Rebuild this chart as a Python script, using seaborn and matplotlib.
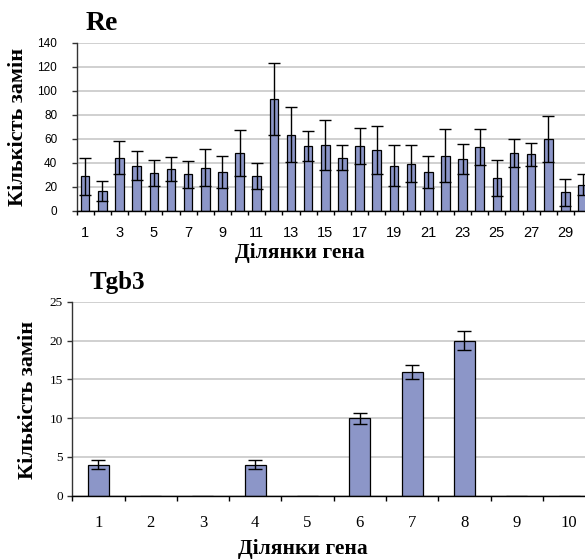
import numpy as np
import pandas as pd
import seaborn as sns
import matplotlib
matplotlib.use("Agg")
import matplotlib.pyplot as plt
from matplotlib.ticker import FixedLocator

# ---- data ----
re_sites = list(range(1, 31))
re_values = [29, 17, 44.5, 37.5, 31.5, 35, 30.5, 36, 32.5, 48,
             29, 93.5, 63.5, 54, 55, 44.5, 54, 50.5, 37.5, 39.5,
             32.5, 46, 43, 53, 27.5, 48, 47, 60, 15.5, 22]
re_errors = [15.5, 8.3, 13.5, 12, 11, 10, 11.5, 15.5, 13, 19,
             11, 30, 23, 12.5, 21, 10.3, 15, 20, 17, 15,
             13.5, 22, 12.5, 15, 15, 11.5, 9.5, 19, 11.5, 9]
re_tick_labels = [str(s) if s % 2 == 1 else "" for s in re_sites]
re_yticks = [0, 20, 40, 60, 80, 100, 120, 140]

tgb3_sites = list(range(1, 11))
tgb3_values = [4, 0, 0, 4, 0, 10, 16, 20, 0, 0]
tgb3_errors = [0.6, 0, 0, 0.6, 0, 0.7, 0.9, 1.2, 0, 0]
tgb3_yticks = [0, 5, 10, 15, 20, 25]

title_re = "Re"
title_tgb3 = "Tgb3"
ylabel_text = "Кількість замін"
xlabel_text = "Ділянки гена"

BAR = "#8C96C8"
GRID = "#C8C8C8"
SERIF = ["Liberation Serif", "DejaVu Serif"]
SANS = ["Liberation Sans", "DejaVu Sans"]

W, H = 585, 559
fig = plt.figure(figsize=(W / 100, H / 100), dpi=100)
fig.patch.set_facecolor("white")


def px_axes(left, right, top, bottom):
    return fig.add_axes([left / W, 1 - bottom / H, (right - left) / W, (bottom - top) / H])


def style_axes(ax, n, ylim, yticks, ytick_font, ytick_size, ytick_pad, ytick_len,
               xtick_font, xtick_size, xtick_pad, xtick_len, labels):
    ax.set_xlim(-0.5, n - 0.5)
    ax.set_ylim(*ylim)
    ax.set_yticks(yticks)
    ax.set_xticks(range(n))
    ax.set_xticklabels(labels)
    ax.xaxis.set_minor_locator(FixedLocator(np.arange(n + 1) - 0.5))
    ax.tick_params(axis="x", which="major", length=0, pad=xtick_pad)
    ax.tick_params(axis="x", which="minor", length=xtick_len, width=1, color="black", direction="out")
    ax.tick_params(axis="y", length=ytick_len, width=1, color="#333333", pad=ytick_pad, direction="out")
    for lab in ax.get_xticklabels():
        lab.set_fontfamily(xtick_font)
        lab.set_fontsize(xtick_size)
    for lab in ax.get_yticklabels():
        lab.set_fontfamily(ytick_font)
        lab.set_fontsize(ytick_size)
    ax.set_xlabel("")
    ax.set_ylabel("")
    ax.yaxis.grid(True, color=GRID, linewidth=1.2)
    ax.xaxis.grid(False)
    ax.set_axisbelow(True)
    for s in ("top", "right"):
        ax.spines[s].set_visible(False)
    ax.spines["left"].set_color("#333333")
    ax.spines["bottom"].set_color("black")
    ax.spines["left"].set_linewidth(1)
    ax.spines["bottom"].set_linewidth(1)
    ax.spines["bottom"].set_zorder(5)
    ax.set_facecolor("white")


# ---- top chart: Re ----
ax1 = px_axes(76.6, 591.2, 42.7, 211)
df_re = pd.DataFrame({"site": [str(s) for s in re_sites], "value": re_values})
sns.barplot(data=df_re, x="site", y="value", ax=ax1, color=BAR, width=0.5,
            edgecolor="black", linewidth=0.9, saturation=1)
ax1.errorbar(np.arange(len(re_values)), re_values, yerr=re_errors, fmt="none",
             ecolor="black", elinewidth=1, capsize=4.5, capthick=1)
style_axes(ax1, len(re_sites), (0, 140), re_yticks, SANS, 8.5, 10.5, 3.5,
           SANS, 10.5, 11, 3, re_tick_labels)

# ---- bottom chart: Tgb3 ----
ax2 = px_axes(72.2, 595.2, 301.7, 495.7)
df_t = pd.DataFrame({"site": [str(s) for s in tgb3_sites], "value": tgb3_values})
sns.barplot(data=df_t, x="site", y="value", ax=ax2, color=BAR, width=0.4,
            edgecolor="black", linewidth=0.9, saturation=1)
mask = np.array(tgb3_values) > 0
ax2.errorbar(np.arange(len(tgb3_values))[mask], np.array(tgb3_values)[mask],
             yerr=np.array(tgb3_errors)[mask], fmt="none",
             ecolor="black", elinewidth=1, capsize=5, capthick=1)
style_axes(ax2, len(tgb3_sites), (0, 25), tgb3_yticks, SERIF, 9.5, 3, 3.6,
           SERIF, 12, 14, 3.6, [str(s) for s in tgb3_sites])

# ---- texts ----
fig.text(86 / W, 1 - 29.5 / H, title_re, fontsize=20, fontweight="bold",
         family=SERIF, ha="left", va="baseline")
fig.text(90 / W, 1 - 288.5 / H, title_tgb3, fontsize=18, fontweight="bold",
         family=SERIF, ha="left", va="baseline")
fig.text(18.5 / W, 1 - 127 / H, ylabel_text, fontsize=16, fontweight="bold",
         family=SERIF, rotation=90, ha="center", va="center")
fig.text(28.5 / W, 1 - 400 / H, ylabel_text, fontsize=16, fontweight="bold",
         family=SERIF, rotation=90, ha="center", va="center")
fig.text(300 / W, 1 - 253 / H, xlabel_text, fontsize=15.5, fontweight="bold",
         family=SERIF, ha="center", va="center")
fig.text(303 / W, 1 - 549 / H, xlabel_text, fontsize=15.5, fontweight="bold",
         family=SERIF, ha="center", va="center")

fig.savefig("out.png", dpi=100, facecolor="white")
